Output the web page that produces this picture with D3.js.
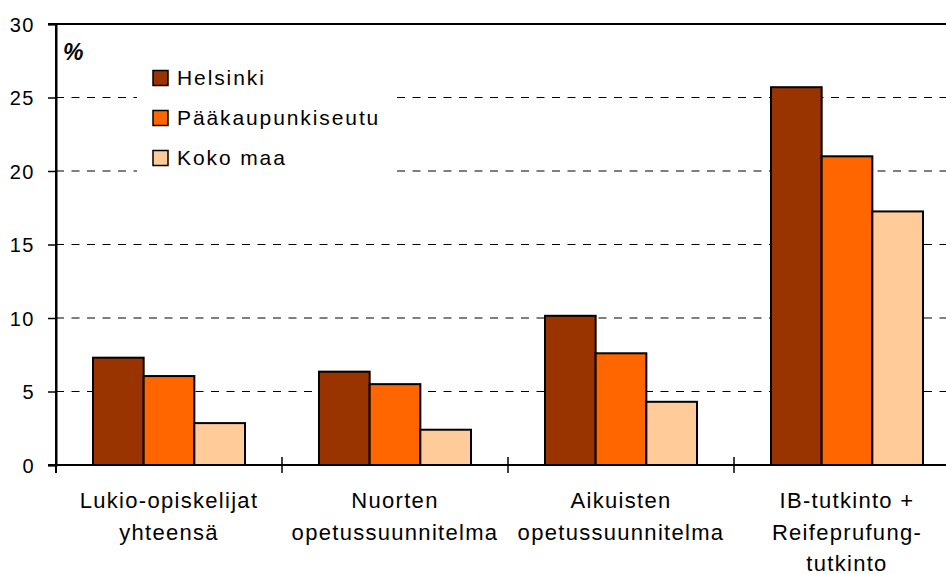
<!DOCTYPE html>
<html>
<head>
<meta charset="utf-8">
<script src="https://cdn.jsdelivr.net/npm/d3@7"></script>
<style>
	body { margin: 0; background: #fff; }
	svg { display: block; font-family: 'Liberation Sans', Arial, sans-serif; }
</style>
</head>
<body>
<div id="chart"></div>
<script>
// categories (one label line per entry)
const categories = ['lukio', 'nuorten', 'aikuisten', 'ib'];
const categoryLabels = [
	['Lukio-opiskelijat', 'yhteensä'],
	['Nuorten', 'opetussuunnitelma'],
	['Aikuisten', 'opetussuunnitelma'],
	['IB-tutkinto +', 'Reifeprufung-', 'tutkinto']
];
const series = ['Helsinki', 'Pääkaupunkiseutu', 'Koko maa'];
const colors = ['#993300', '#ff6600', '#ffcc99'];

// values, %
const helsinki = [7.3, 6.35, 10.15, 25.7];
const paakaupunkiseutu = [6.05, 5.5, 7.6, 21.0];
const kokoMaa = [2.85, 2.4, 4.3, 17.25];

const yTicks = [0, 5, 10, 15, 20, 25, 30];

const values = [helsinki, paakaupunkiseutu, kokoMaa];

const W = 946, H = 574;
const plot = { left: 56, right: 960, top: 24, bottom: 465 };

const svg = d3.select('#chart').append('svg').attr('width', W).attr('height', H);

const x = d3.scaleBand().domain(categories).range([plot.left, plot.right]);
const xInner = d3.scaleBand().domain(series).range([0, x.bandwidth()]).paddingOuter(0.73);
const y = d3.scaleLinear().domain([0, 30]).range([plot.bottom, plot.top]);

// dashed grid
svg.append('g')
	.selectAll('line')
	.data(yTicks.filter((t) => t > 0 && t < 30))
	.join('line')
	.attr('x1', plot.left)
	.attr('x2', W)
	.attr('y1', (d) => y(d))
	.attr('y2', (d) => y(d))
	.attr('stroke', '#000')
	.attr('stroke-width', 1.2)
	.attr('stroke-dasharray', '8,7.5');

// top frame line
svg.append('line')
	.attr('x1', plot.left - 8).attr('x2', W)
	.attr('y1', y(30)).attr('y2', y(30))
	.attr('stroke', '#000').attr('stroke-width', 2);

// legend background covers grid
svg.append('rect')
	.attr('x', 137).attr('y', 48)
	.attr('width', 257).attr('height', 136)
	.attr('fill', '#fff');

// bars
const groups = svg.append('g')
	.selectAll('g')
	.data(series)
	.join('g')
	.attr('fill', (d, i) => colors[i]);

groups.selectAll('rect')
	.data((s, i) => categories.map((c, j) => ({ c: c, s: s, v: values[i][j] })))
	.join('rect')
	.attr('x', (d) => x(d.c) + xInner(d.s))
	.attr('width', xInner.bandwidth())
	.attr('y', (d) => y(d.v))
	.attr('height', (d) => y(0) - y(d.v))
	.attr('stroke', '#000')
	.attr('stroke-width', 2);

// y axis
const yAxis = d3.axisLeft(y).tickValues(yTicks).tickSize(8).tickPadding(13);
const gy = svg.append('g').attr('transform', 'translate(' + plot.left + ',0)').call(yAxis);
gy.select('.domain').attr('stroke-width', 2);
gy.selectAll('.tick line').attr('stroke-width', 1.5);
gy.selectAll('.tick text')
	.style('font-size', '20px')
	.style('letter-spacing', '1.5px')
	.attr('fill', '#000')
	.attr('dy', '0.35em');

// left axis line runs a bit below zero
svg.append('line')
	.attr('x1', plot.left).attr('x2', plot.left)
	.attr('y1', plot.top).attr('y2', plot.bottom + 8)
	.attr('stroke', '#000').attr('stroke-width', 2);

// x axis line and category ticks
svg.append('line')
	.attr('x1', plot.left - 8).attr('x2', W)
	.attr('y1', plot.bottom).attr('y2', plot.bottom)
	.attr('stroke', '#000').attr('stroke-width', 2);

svg.append('g')
	.selectAll('line')
	.data(categories.slice(1))
	.join('line')
	.attr('x1', (d) => x(d)).attr('x2', (d) => x(d))
	.attr('y1', plot.bottom - 8).attr('y2', plot.bottom + 8)
	.attr('stroke', '#000').attr('stroke-width', 1.5);

// category labels
const labels = svg.append('g')
	.selectAll('text')
	.data(categories)
	.join('text')
	.attr('text-anchor', 'middle')
	.style('font-size', '22px')
	.style('letter-spacing', '1.3px')
	.attr('fill', '#000');

labels.selectAll('tspan')
	.data((d, i) => categoryLabels[i].map((t) => ({ c: d, t: t })))
	.join('tspan')
	.attr('x', (d) => x(d.c) + x.bandwidth() / 2)
	.attr('y', (d, i) => 508 + i * 31.5)
	.text((d) => d.t);

// % unit label
svg.append('text')
	.attr('x', 63).attr('y', 60)
	.style('font-size', '23px')
	.style('font-weight', 'bold')
	.style('font-style', 'italic')
	.text('%');

// legend
const legend = svg.append('g')
	.selectAll('g')
	.data(series)
	.join('g')
	.attr('transform', (d, i) => 'translate(153,' + (70.5 + i * 40) + ')');

legend.append('rect')
	.attr('width', 15).attr('height', 15)
	.attr('fill', (d, i) => colors[i])
	.attr('stroke', '#000').attr('stroke-width', 1.5);

legend.append('text')
	.attr('x', 24).attr('y', 14.5)
	.style('font-size', '21px')
	.style('letter-spacing', '1.9px')
	.text((d) => d);
</script>
</body>
</html>
